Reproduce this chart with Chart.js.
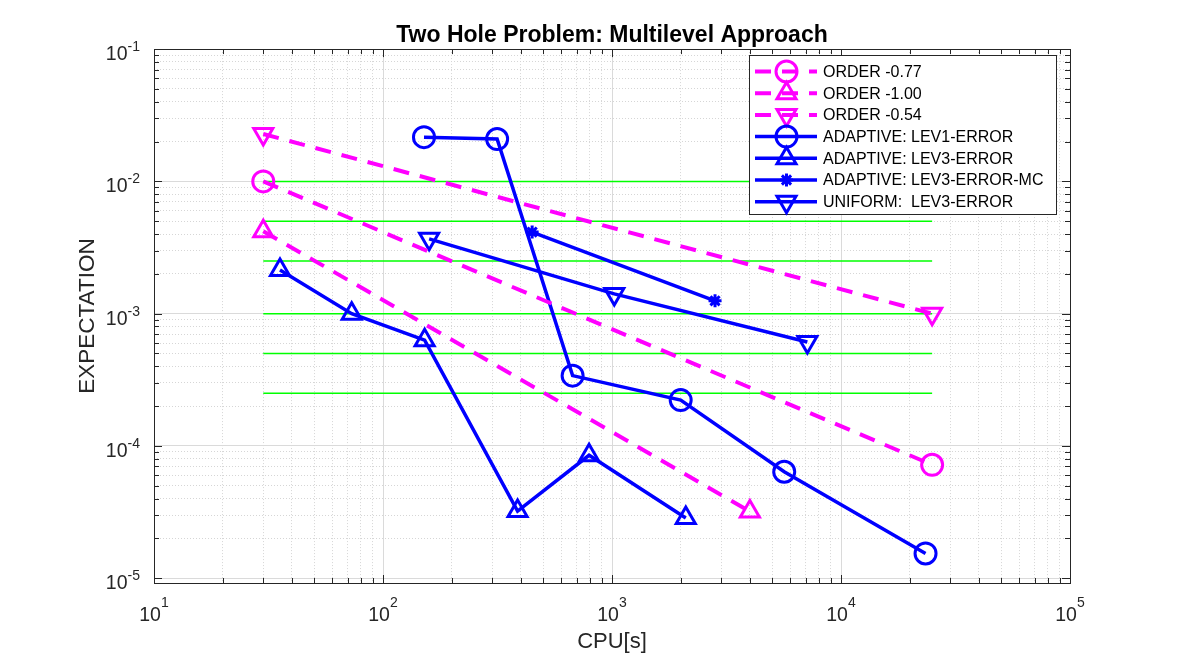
<!DOCTYPE html>
<html>
<head>
<meta charset="utf-8">
<title>Two Hole Problem: Multilevel Approach</title>
<script src="https://cdn.jsdelivr.net/npm/chart.js@4.4.1/dist/chart.umd.min.js"></script>
<style>
  html, body { margin: 0; padding: 0; background: #fff; }
  #wrap { width: 1184px; height: 657px; }
</style>
</head>
<body>
<div id="wrap"><canvas id="chart" width="1184" height="657"></canvas></div>
<script>
// reference slopes (magenta, dashed)
const order077Cpu = [30, 25000];
const order077Err = [0.01, 7.2e-5];
const order100Cpu = [30, 4000];
const order100Err = [4.2e-3, 3.2e-5];
const order054Cpu = [30, 25000];
const order054Err = [0.0228, 1.0e-3];

// measured runs (blue)
const lev1Cpu = [151, 315, 673, 1995, 5650, 23400];
const lev1Err = [0.0216, 0.0209, 3.4e-4, 2.22e-4, 6.38e-5, 1.54e-5];
const lev3Cpu = [35.5, 73, 152, 387, 794, 2100];
const lev3Err = [2.14e-3, 1.0e-3, 6.3e-4, 3.22e-5, 8.5e-5, 2.85e-5];
const mcCpu = [448, 2818];
const mcErr = [4.14e-3, 1.25e-3];
const uniCpu = [159, 1023, 7130];
const uniErr = [3.68e-3, 1.41e-3, 6.1e-4];

// tolerance levels (green)
const tolCpu = [30, 25000];
const tolLevels = [1e-2, 5e-3, 2.5e-3, 1e-3, 5e-4, 2.5e-4];

const xExp = [1, 2, 3, 4, 5];
const yExp = [-1, -2, -3, -4, -5];

const MAGENTA = '#ff00ff', BLUE = '#0000ff', GREEN = '#00ff00', AXIS = '#262626';
const FONT = "'Liberation Sans', Arial, Helvetica, sans-serif";
Chart.defaults.font.family = FONT;

function pts(xs, ys) {
  return xs.map((v, i) => ({x: v, y: ys[i]}));
}
function isPow10(v) {
  const l = Math.log10(v);
  return Math.abs(l - Math.round(l)) < 1e-9;
}
function logTicks(min, max) {
  const out = [];
  for (let e = Math.floor(Math.log10(min)); e <= Math.ceil(Math.log10(max)); e++) {
    for (let m = 1; m <= 9; m++) {
      const v = m * Math.pow(10, e);
      if (v >= min * 0.999 && v <= max * 1.001) out.push({value: v});
    }
  }
  return out;
}

function refSet(label, xs, ys, style, rot) {
  return {
    label, data: pts(xs, ys), borderColor: MAGENTA, borderWidth: 4,
    borderDash: [16, 11], pointStyle: style, pointRotation: rot || 0,
    pointRadius: style === 'circle' ? 10.5 : 11, pointBorderWidth: 3,
    pointBackgroundColor: 'rgba(0,0,0,0)', pointBorderColor: MAGENTA, order: 1
  };
}
function runSet(label, xs, ys, style, rot) {
  const r = style === 'star' ? 6.5 : (style === 'circle' ? 10.5 : 11);
  return {
    label, data: pts(xs, ys), borderColor: BLUE, borderWidth: 3.5,
    pointStyle: style, pointRotation: rot || 0, pointRadius: r, pointBorderWidth: 3,
    pointBackgroundColor: 'rgba(0,0,0,0)', pointBorderColor: BLUE, order: 1
  };
}

const datasets = [
  refSet('ORDER -0.77', order077Cpu, order077Err, 'circle'),
  refSet('ORDER -1.00', order100Cpu, order100Err, 'triangle'),
  refSet('ORDER -0.54', order054Cpu, order054Err, 'triangle', 180),
  runSet('ADAPTIVE: LEV1-ERROR', lev1Cpu, lev1Err, 'circle'),
  runSet('ADAPTIVE: LEV3-ERROR', lev3Cpu, lev3Err, 'triangle'),
  runSet('ADAPTIVE: LEV3-ERROR-MC', mcCpu, mcErr, 'star'),
  runSet('UNIFORM:  LEV3-ERROR', uniCpu, uniErr, 'triangle', 180)
];
tolLevels.forEach(lv => {
  datasets.push({
    label: 'tol', noLegend: true, data: pts(tolCpu, [lv, lv]),
    borderColor: GREEN, borderWidth: 1.5, pointRadius: 0, order: 10
  });
});

function markerPath(ctx, style, x, y, r, rotDeg) {
  let rad = (rotDeg || 0) * Math.PI / 180;
  ctx.beginPath();
  if (style === 'circle') {
    ctx.arc(x, y, r, 0, Math.PI * 2);
  } else if (style === 'triangle') {
    for (let k = 0; k < 3; k++) {
      const px = x + Math.sin(rad) * r, py = y - Math.cos(rad) * r;
      k === 0 ? ctx.moveTo(px, py) : ctx.lineTo(px, py);
      rad += 2 * Math.PI / 3;
    }
    ctx.closePath();
  } else if (style === 'star') {
    for (let k = 0; k < 4; k++) {
      const a = rad + k * Math.PI / 4;
      ctx.moveTo(x - Math.cos(a) * r, y - Math.sin(a) * r);
      ctx.lineTo(x + Math.cos(a) * r, y + Math.sin(a) * r);
    }
  }
  ctx.stroke();
}

// box, inward ticks, power-of-ten labels and the legend, MATLAB style
const matlabAxes = {
  id: 'matlabAxes',
  afterDraw(chart) {
    const {ctx, chartArea: a, scales: {x, y}} = chart;
    ctx.save();
    ctx.strokeStyle = AXIS;
    ctx.lineWidth = 1;
    ctx.beginPath();
    x.ticks.forEach(t => {
      const px = Math.round(x.getPixelForValue(t.value)) + 0.5;
      const len = isPow10(t.value) ? 8 : 5;
      ctx.moveTo(px, a.bottom); ctx.lineTo(px, a.bottom - len);
      ctx.moveTo(px, a.top); ctx.lineTo(px, a.top + len);
    });
    y.ticks.forEach(t => {
      const py = Math.round(y.getPixelForValue(t.value)) + 0.5;
      const len = isPow10(t.value) ? 8 : 5;
      ctx.moveTo(a.left, py); ctx.lineTo(a.left + len, py);
      ctx.moveTo(a.right, py); ctx.lineTo(a.right - len, py);
    });
    ctx.stroke();
    ctx.strokeRect(Math.round(a.left) + 0.5, Math.round(a.top) + 0.5,
                   Math.round(a.right - a.left), Math.round(a.bottom - a.top));

    // tick labels 10^n
    ctx.fillStyle = AXIS;
    ctx.textBaseline = 'alphabetic';
    const baseFont = '19.5px ' + FONT, expFont = '14px ' + FONT;
    xExp.forEach(e => {
      const px = x.getPixelForValue(Math.pow(10, e));
      ctx.font = baseFont; const wb = ctx.measureText('10').width;
      ctx.font = expFont; const we = ctx.measureText(String(e)).width;
      const left = px - (wb + we) / 2;
      ctx.textAlign = 'left';
      ctx.font = baseFont; ctx.fillText('10', left, a.bottom + 37.5);
      ctx.font = expFont; ctx.fillText(String(e), left + wb, a.bottom + 23.5);
    });
    yExp.forEach(e => {
      const py = y.getPixelForValue(Math.pow(10, e));
      const right = a.left - 14;
      ctx.font = expFont; const we = ctx.measureText(String(e)).width;
      ctx.textAlign = 'right';
      ctx.fillText(String(e), right, py + 2);
      ctx.font = baseFont; ctx.fillText('10', right - we, py + 11);
    });

    // legend
    const lx = 749.5, ly = 55.5, lw = 307, lh = 159;
    ctx.fillStyle = '#fff';
    ctx.fillRect(lx, ly, lw, lh);
    ctx.strokeStyle = AXIS;
    ctx.lineWidth = 1;
    ctx.strokeRect(lx, ly, lw, lh);
    let row = 0;
    chart.data.datasets.forEach(ds => {
      if (ds.noLegend) return;
      const cy = 71.5 + row * 21.7;
      ctx.save();
      ctx.strokeStyle = ds.borderColor;
      ctx.lineWidth = ds.borderWidth;
      ctx.setLineDash(ds.borderDash || []);
      ctx.beginPath(); ctx.moveTo(755, cy); ctx.lineTo(817, cy); ctx.stroke();
      ctx.setLineDash([]);
      ctx.lineWidth = ds.pointBorderWidth;
      ctx.strokeStyle = ds.pointBorderColor;
      markerPath(ctx, ds.pointStyle, 786.5, cy, ds.pointRadius, ds.pointRotation);
      ctx.restore();
      ctx.fillStyle = '#000';
      ctx.font = '16px ' + FONT;
      ctx.textAlign = 'left';
      ctx.textBaseline = 'middle';
      ctx.fillText(ds.label, 823, cy + 1);
      row++;
    });
    ctx.restore();
  }
};

const xMin = 10, xMax = 1e5, yMin = 9.2e-6, yMax = 0.1;

new Chart(document.getElementById('chart'), {
  type: 'line',
  data: {datasets},
  options: {
    responsive: false,
    animation: false,
    devicePixelRatio: 1,
    layout: {padding: {left: 40, right: 0, top: 0, bottom: 0}},
    plugins: {
      legend: {display: false},
      tooltip: {enabled: false},
      title: {
        display: true,
        text: 'Two Hole Problem: Multilevel Approach',
        color: '#000',
        font: {size: 23, weight: 'bold'},
        padding: {top: 21.5, bottom: 0}
      }
    },
    scales: {
      x: {
        type: 'logarithmic', min: xMin, max: xMax,
        afterBuildTicks: s => { s.ticks = logTicks(xMin, xMax); },
        afterFit: s => { s.height = 74; },
        ticks: {display: false},
        border: {display: false, dash: c => (c.tick && isPow10(c.tick.value)) ? [] : [1, 2]},
        grid: {
          drawTicks: false,
          color: c => (c.tick && isPow10(c.tick.value)) ? '#dadada' : '#d6d6d6',
          lineWidth: 1
        },
        title: {display: true, text: 'CPU[s]', color: AXIS, font: {size: 22}, padding: {top: 0, bottom: 2}}
      },
      y: {
        type: 'logarithmic', min: yMin, max: yMax,
        afterBuildTicks: s => { s.ticks = logTicks(yMin, yMax); },
        afterFit: s => { s.width = 114; },
        ticks: {display: false},
        border: {display: false, dash: c => (c.tick && isPow10(c.tick.value)) ? [] : [1, 2]},
        grid: {
          drawTicks: false,
          color: c => (c.tick && isPow10(c.tick.value)) ? '#dadada' : '#d6d6d6',
          lineWidth: 1
        },
        title: {display: true, text: 'EXPECTATION', color: AXIS, font: {size: 22.5}, padding: {top: 34.5, bottom: 0}}
      },
      y2: {
        type: 'logarithmic', position: 'right', min: yMin, max: yMax,
        afterFit: s => { s.width = 114; },
        ticks: {display: false},
        border: {display: false},
        grid: {display: false, drawTicks: false}
      }
    }
  },
  plugins: [matlabAxes]
});
</script>
</body>
</html>
